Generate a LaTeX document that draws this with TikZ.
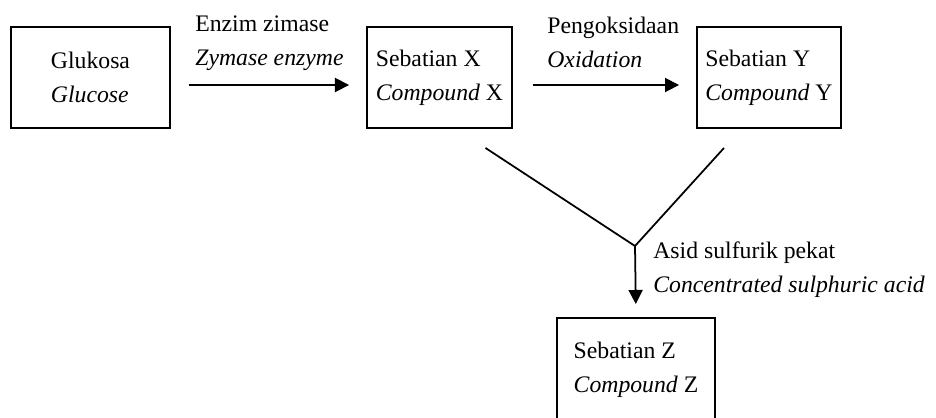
\documentclass[tikz,border=0pt]{standalone}
\usepackage{fontspec}
\setmainfont{Liberation Serif}
\usetikzlibrary{arrows.meta}

\begin{document}
\begin{tikzpicture}[x=0.02cm,y=-0.02cm,font=\fontsize{13.5}{19.3}\selectfont,
	box/.style={draw=black,line width=1.1pt,align=left,minimum height=2.02cm},
	lbl/.style={inner sep=0pt,align=left,anchor=west},
	flow/.style={line width=1pt,-{Triangle[length=8pt,width=8pt]}}]
	\useasboundingbox (0,0) rectangle (936,417);
	\node[box,name=gluc,minimum width=3.18cm] at (90.5,77.5) {Glukosa\\\textit{Glucose}};
	\node[box,name=x,minimum width=2.9cm] at (439.5,77.5) {Sebatian X\\\textit{Compound} X};
	\node[box,name=y,minimum width=2.88cm] at (769,77.5) {Sebatian Y\\\textit{Compound} Y};
	\node[box,name=z,minimum width=3.16cm,minimum height=2.08cm] at (636,370) {Sebatian Z\\\textit{Compound} Z};
	\coordinate (join) at (635,246);

	\node[lbl,name=zym] at (195,43.5) {Enzim zimase\\\textit{Zymase enzyme}};
	\node[lbl,name=oks] at (547,42.5) {Pengoksidaan\\\textit{Oxidation}};
	\node[lbl,name=acid] at (653,269.5) {Asid sulfurik pekat\\\textit{Concentrated sulphuric acid}};

	\path[flow] ([shift={(18,7.5)}]gluc.east) edge ([shift={(-17,7.5)}]x.west)
		([shift={(20,7.5)}]x.east) edge ([shift={(-17,7.5)}]y.west)
		(join) edge[shorten >=13*0.02cm] (z.north);
	\draw[line width=1pt] ([shift={(46,19)}]x.south) -- (join) -- ([shift={(-45,19)}]y.south);
\end{tikzpicture}
\end{document}
